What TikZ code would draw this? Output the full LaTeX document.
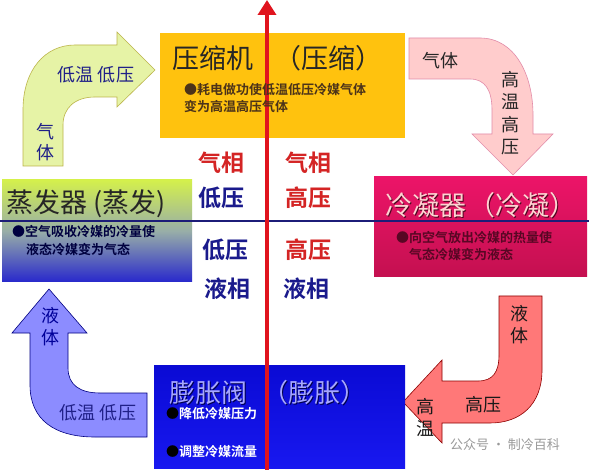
\documentclass[tikz,border=0pt]{standalone}
\usepackage{fontspec}
\setmainfont{Noto Sans CJK SC}[BoldFont={Noto Sans CJK SC Bold}]
\usetikzlibrary{arrows.meta}
\definecolor{compyel}{HTML}{FFC20E}
\definecolor{condtop}{HTML}{EC1468}
\definecolor{condbot}{HTML}{C41050}
\definecolor{evaptop}{HTML}{D4F04C}
\definecolor{evapmid}{HTML}{98AEA8}
\definecolor{evapbot}{HTML}{2828CC}
\definecolor{valvetop}{HTML}{0A0AD4}
\definecolor{valvebot}{HTML}{1818F0}
\definecolor{axred}{HTML}{E0141E}
\definecolor{axnavy}{HTML}{1C1C78}
\definecolor{phred}{HTML}{D42424}
\definecolor{phnavy}{HTML}{1A1A8C}
\definecolor{labnavy}{HTML}{202088}
\definecolor{gasgreen}{HTML}{E6F3A6}

\begin{document}
\begin{tikzpicture}[x=1pt,y=-1pt,
    box/.style={anchor=north west, inner sep=0pt, outer sep=0pt},
    ttl/.style={anchor=west, inner sep=0pt, font=\fontsize{27}{30}\selectfont},
    dsc/.style={anchor=west, inner sep=0pt, font=\fontsize{13}{16}\selectfont\bfseries},
    phase/.style={inner sep=0pt, font=\fontsize{23}{26}\selectfont\bfseries},
    lbl/.style={inner sep=0pt, align=center, font=\fontsize{18}{22}\selectfont},
    blk/.style={line width=0.6pt},
    arr/.style={-{Triangle[length=15pt,width=18pt]}, line width=3.5pt, draw=axred}
]
\useasboundingbox[fill=white] (0,0) rectangle (589,470);

% block arrows
\filldraw[blk, fill=gasgreen, draw=olive!60] (23,166) -- (23,110)
  .. controls (23,70) and (45,45) .. (75,45) -- (117,45) -- (117,32) -- (155,70)
  -- (117,107) -- (117,97) -- (95,97) .. controls (75,97) and (63,108) .. (63,125)
  -- (63,166) -- cycle;
\filldraw[blk, fill=pink!80!white, draw=purple!45] (409,38) -- (480,38)
  .. controls (515,38) and (533,75) .. (533,115) -- (533,134) -- (553,134) -- (513,175)
  -- (472,134) -- (492,134) -- (492,110) .. controls (492,90) and (485,79) .. (470,79)
  -- (409,79) -- cycle;
\filldraw[blk, fill=red!45!pink!90, draw=red!55!black] (499,296) -- (542,296) -- (542,370)
  .. controls (542,405) and (520,423) .. (490,423) -- (442,423) -- (442,443) -- (403,402)
  -- (442,360) -- (442,381) -- (478,381) .. controls (493,381) and (499,372) .. (499,355)
  -- cycle;
\filldraw[blk, fill=blue!45!white, draw=blue!50!black] (49,289) -- (87,333) -- (68,333)
  -- (68,368) .. controls (68,385) and (80,393) .. (100,393) -- (147,393) -- (147,437)
  -- (95,437) .. controls (55,437) and (30,420) .. (30,385) -- (30,333) -- (12,333) -- cycle;

% components
\node[box, fill=compyel, minimum width=245pt, minimum height=105pt] (comp) at (160,33) {};
\node[box, top color=condtop, bottom color=condbot, minimum width=213pt, minimum height=100pt] (cond) at (374,177) {};
\node[box, top color=evaptop, bottom color=evapbot, middle color=evapmid, minimum width=190pt, minimum height=102pt] (evap) at (2,180) {};
\node[box, top color=valvetop, bottom color=valvebot, minimum width=251pt, minimum height=103pt] (valve) at (154,365) {};

% axes
\coordinate (hl) at (0,221);
\coordinate (hr) at (589,221);
\coordinate (vb) at (267,470);
\coordinate (vt) at (267,0);
\draw[axnavy, line width=2.6pt] (hl) -- (hr);
\draw[arr] (vb) -- (vt);

% titles
\node[ttl, text=black!85] (compt) at (172,58) {压缩机\hspace{0.8em}（压缩）};
\node[ttl, text=black!85] (evapt) at (6,204) {蒸发器 (蒸发)};
\node[ttl, text=condbot!40!black] (condts) at (386,206) {冷凝器\hspace{0.1em}（冷凝）};
\node[ttl, text=pink!70!white] (condt) at (385,205) {冷凝器\hspace{0.1em}（冷凝）};
\node[ttl, font=\fontsize{26}{30}\selectfont, text=blue!30!black] (valvets) at (170,394) {膨胀阀\hspace{0.6em}（膨胀）};
\node[ttl, font=\fontsize{26}{30}\selectfont, text=blue!35!white] (valvet) at (169,393) {膨胀阀\hspace{0.6em}（膨胀）};

% descriptions
\node[dsc, text=brown!40!black] (compd1) at (184,90) {●耗电做功使低温低压冷媒气体};
\node[dsc, text=brown!40!black] (compd2) at (184,107) {变为高温高压气体};
\node[dsc, text=blue!25!black] (evapd1) at (12,232) {●空气吸收冷媒的冷量使};
\node[dsc, text=blue!25!black] (evapd2) at (26,250) {液态冷媒变为气态};
\node[dsc, text=condbot!45!black] (condd1) at (396,238) {●向空气放出冷媒的热量使};
\node[dsc, text=condbot!45!black] (condd2) at (409,255) {气态冷媒变为液态};
\node[dsc, text=white] (valved1) at (166,414) {\textcolor{black}{●}降低冷媒压力};
\node[dsc, text=white] (valved2) at (166,452) {\textcolor{black}{●}调整冷媒流量};

% phases
\node[phase, text=phred] (p1) at (221,163) {气相};
\node[phase, text=phnavy] (p2) at (221,198) {低压};
\node[phase, text=phred] (p3) at (308,163) {气相};
\node[phase, text=phred] (p4) at (308,198) {高压};
\node[phase, text=phnavy] (p5) at (225,250) {低压};
\node[phase, text=phnavy] (p6) at (227,289) {液相};
\node[phase, text=phred] (p7) at (308,250) {高压};
\node[phase, text=phnavy] (p8) at (306,289) {液相};

% arrow labels
\node[lbl, text=labnavy] (l1) at (96,75) {低温 低压};
\node[lbl, text=labnavy, font=\fontsize{18}{21}\selectfont] (l2) at (45,142) {气\\体};
\node[lbl, text=black!85] (l3) at (440,61) {气体};
\node[lbl, text=black!85, font=\fontsize{18}{22.3}\selectfont] (l4) at (510,113) {高\\温\\高\\压};
\node[lbl, text=black!90] (l5) at (519,325) {液\\体};
\node[lbl, text=black!90] (l6) at (483,405) {高压};
\node[lbl, text=black!90] (l7) at (425,417) {高\\温};
\node[lbl, text=blue!60!black] (l8) at (50,327) {液\\体};
\node[lbl, text=labnavy] (l9) at (98,413) {低温 低压};
\node[inner sep=0pt, text=black!40, font=\fontsize{13}{15}\selectfont] (wm) at (505,445) {公众号 · 制冷百科};
\end{tikzpicture}
\end{document}
